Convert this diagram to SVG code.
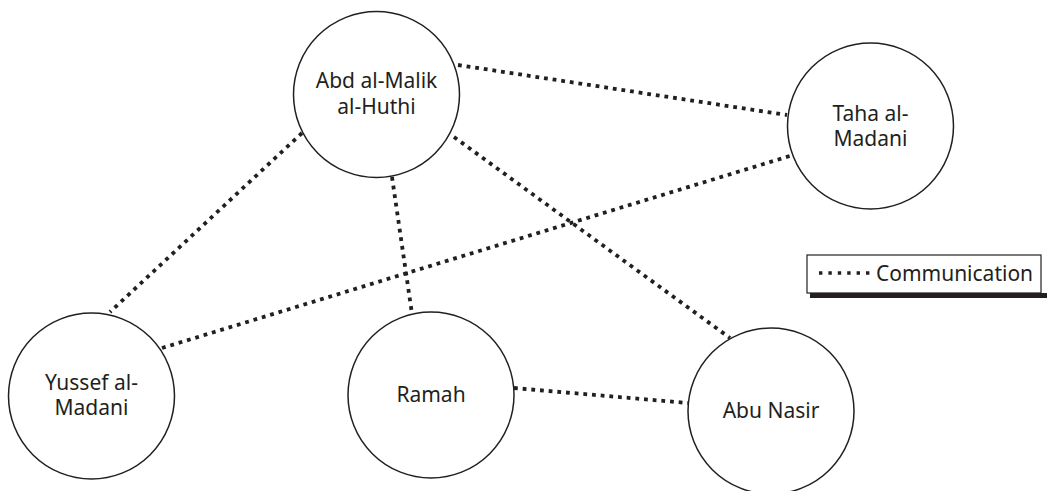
<svg xmlns="http://www.w3.org/2000/svg" width="1047" height="491" viewBox="0 0 1047 491">
<style>
.node circle{fill:#fff;stroke:#231f20;stroke-width:1.5}
text{font-family:"Noto Sans","Open Sans","Liberation Sans",sans-serif;font-size:21px;fill:#231f20;text-anchor:middle}
.link{stroke:#231f20;stroke-width:3.8;stroke-dasharray:3.8 4.9;fill:none}
</style>
<rect width="1047" height="491" fill="#fff"/>
<g id="connectors">
<line class="link" x1="458" y1="65" x2="787" y2="115"/>
<line class="link" x1="162" y1="348" x2="793" y2="155"/>
<line class="link" x1="302" y1="133" x2="110" y2="312"/>
<line class="link" x1="392" y1="177" x2="412" y2="314"/>
<line class="link" x1="454" y1="137" x2="730" y2="338"/>
<line class="link" x1="514" y1="388" x2="688" y2="403"/>
</g>
<g id="abd" class="node"><circle cx="376.5" cy="94.5" r="83"/><text x="376.5" y="88">Abd al-Malik</text><text x="376.5" y="114">al-Huthi</text></g>
<g id="taha" class="node"><circle cx="870.5" cy="126" r="83"/><text x="870.5" y="121">Taha al-</text><text x="870.5" y="146">Madani</text></g>
<g id="yussef" class="node"><circle cx="91.5" cy="396" r="83"/><text x="91.5" y="390">Yussef al-</text><text x="91.5" y="415">Madani</text></g>
<g id="ramah" class="node"><circle cx="431" cy="395" r="83"/><text x="431" y="402">Ramah</text></g>
<g id="abunasir" class="node"><circle cx="771" cy="411" r="83"/><text x="771" y="418">Abu Nasir</text></g>
<g id="legend">
<rect x="810" y="293" width="237" height="5" fill="#231f20"/>
<rect x="807" y="255" width="234" height="38" fill="#fff" stroke="#231f20" stroke-width="1.2"/>
<line class="link" x1="819" y1="273" x2="872" y2="273" style="stroke-width:3.4;stroke-dasharray:3.4 6"/>
<text x="954.5" y="281">Communication</text>
</g>
</svg>
